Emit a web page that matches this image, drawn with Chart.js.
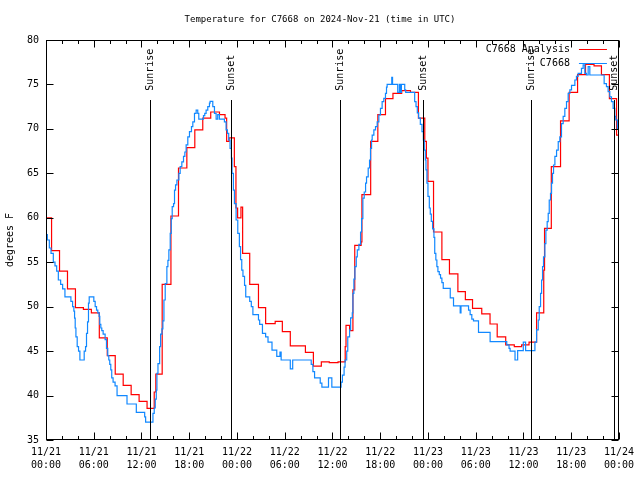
<!DOCTYPE html>
<html><head><meta charset="utf-8">
<script src="https://cdn.jsdelivr.net/npm/chart.js@4/dist/chart.umd.min.js"></script>
<style>html,body{margin:0;padding:0;background:#fff}#wrap{width:640px;height:480px}</style>
</head><body><div id="wrap"><canvas id="c" width="640" height="480"></canvas></div>
<script>
const titleText = 'Temperature for C7668 on 2024-Nov-21 (time in UTC)';
const yAxisLabel = 'degrees F';
const xTickHours = [0, 6, 12, 18, 24, 30, 36, 42, 48, 54, 60, 66, 72];
const xTickDates = ['11/21','11/21','11/21','11/21','11/22','11/22','11/22','11/22','11/23','11/23','11/23','11/23','11/24'];
const xTickTimes = ['00:00','06:00','12:00','18:00','00:00','06:00','12:00','18:00','00:00','06:00','12:00','18:00','00:00'];
const yTicks = [35, 40, 45, 50, 55, 60, 65, 70, 75, 80];

const analysisLabel = 'C7668 Analysis';
const analysisHours = [0, 0.7, 1.7, 2.7, 3.7, 4.7, 5.7, 6.7, 7.7, 8.7,
  9.7, 10.7, 11.7, 12.7, 13.6, 13.8, 14.6, 15.7, 16.65, 17.7,
  18.7, 19.7, 20.7, 21.8, 22.5, 22.7, 23.0, 23.67, 23.87, 24.08,
  24.5, 24.71, 25.6, 26.7, 27.6, 28.8, 29.7, 30.7, 32.6, 33.6,
  34.6, 35.6, 36.7, 37.6, 37.7, 38.15, 38.57, 38.8, 39.6, 39.7,
  40.8, 41.7, 42.66, 43.6, 44.7, 45.8, 46.8, 47.6, 47.8, 48.0,
  48.7, 49.75, 50.7, 51.76, 52.7, 53.6, 54.76, 55.8, 56.7, 57.77,
  58.85, 59.77, 60.7, 61.65, 62.55, 62.65, 63.5, 64.66, 65.74, 66.8,
  67.8, 68.87, 69.8, 70.8, 71.7, 72];
const analysisTemps = [60.0, 56.3, 54.0, 52.0, 49.9, 49.7, 49.3, 46.5, 44.5, 42.4,
  41.15, 40.1, 39.35, 38.55, 40.4, 42.4, 52.5, 60.2, 65.6, 67.9,
  69.9, 71.2, 71.9, 71.6, 71.2, 68.6, 69.0, 65.75, 61.1, 60.0,
  61.2, 56.0, 52.5, 49.9, 48.1, 48.35, 47.2, 45.6, 44.85, 43.3,
  43.8, 43.7, 43.8, 45.5, 47.9, 47.3, 51.9, 56.9, 57.3, 62.6,
  68.6, 71.6, 73.4, 74.0, 74.3, 74.1, 71.2, 68.6, 66.7, 64.1,
  58.4, 55.3, 53.7, 51.7, 50.8, 49.8, 49.2, 48.05, 46.6, 45.7,
  45.5, 45.7, 46.0, 49.3, 54.1, 58.8, 65.75, 70.9, 74.1, 76.1,
  77.25, 77.1, 76.1, 73.4, 69.3, 69.3];

const obsLabel = 'C7668';
const obsHours = [0, 0.17, 0.42, 0.63, 0.92, 1.13, 1.34, 1.55, 1.84, 2.09,
  2.38, 3.13, 3.34, 3.5, 3.59, 3.67, 3.76, 3.92, 4.09, 4.26,
  4.8, 4.97, 5.09, 5.22, 5.34, 5.43, 6.01, 6.18, 6.35, 6.51,
  6.68, 6.76, 6.89, 7.01, 7.18, 7.43, 7.6, 7.76, 7.89, 8.01,
  8.14, 8.26, 8.43, 8.68, 8.93, 10.18, 11.35, 12.4, 12.52, 13.44,
  13.6, 13.73, 13.86, 13.94, 14.07, 14.28, 14.4, 14.57, 14.69, 14.82,
  14.98, 15.19, 15.32, 15.44, 15.61, 15.74, 15.86, 16.03, 16.15, 16.28,
  16.45, 16.7, 16.86, 17.07, 17.28, 17.45, 17.61, 17.82, 18.03, 18.28,
  18.45, 18.66, 18.87, 19.07, 19.2, 19.79, 19.95, 20.12, 20.33, 20.54,
  20.62, 20.96, 21.17, 21.38, 21.58, 21.79, 22.42, 22.63, 22.8, 22.96,
  23.13, 23.3, 23.38, 23.55, 23.68, 23.89, 24.1, 24.3, 24.45, 24.6,
  24.75, 24.95, 25.1, 25.6, 25.8, 26.0, 26.7, 26.85, 27.2, 27.6,
  27.9, 28.4, 29.0, 29.4, 29.55, 30.7, 31.0, 33.33, 33.54, 33.75,
  34.46, 34.67, 35.5, 35.92, 37.08, 37.25, 37.46, 37.58, 37.79, 37.92,
  38.15, 38.28, 38.49, 38.57, 38.69, 38.82, 38.99, 39.12, 39.32, 39.53,
  39.66, 39.82, 39.99, 40.16, 40.28, 40.49, 40.66, 40.78, 40.91, 40.99,
  41.2, 41.41, 41.62, 41.83, 42.03, 42.24, 42.45, 42.66, 42.79, 42.87,
  43.45, 43.55, 44.2, 44.41, 44.54, 44.66, 45.08, 45.2, 46.33, 46.5,
  46.66, 46.83, 47.04, 47.25, 47.42, 47.54, 47.67, 47.75, 47.87, 48.0,
  48.17, 48.29, 48.42, 48.58, 48.75, 48.85, 48.99, 49.12, 49.25, 49.42,
  49.58, 49.75, 49.92, 50.8, 51.21, 52.05, 52.15, 53.1, 53.3, 53.51,
  53.72, 54.35, 55.81, 57.9, 58.19, 58.32, 58.94, 59.27, 59.98, 60.27,
  61.44, 61.65, 61.86, 61.98, 62.15, 62.28, 62.4, 62.52, 62.69, 62.82,
  62.98, 63.11, 63.24, 63.4, 63.53, 63.65, 63.78, 63.95, 64.16, 64.37,
  64.57, 64.78, 64.99, 65.2, 65.41, 65.62, 65.83, 66.04, 66.46, 66.66,
  66.87, 67.29, 67.5, 67.71, 67.92, 68.13, 68.34, 70.14, 70.43, 70.64,
  70.85, 71.06, 71.27, 71.48, 71.6, 71.8, 72];
const obsTemps = [58.1, 57.5, 56.6, 56.0, 55.0, 54.6, 54.0, 53.0, 52.5, 52.0,
  51.1, 50.6, 50.0, 49.5, 48.7, 47.6, 46.6, 45.5, 45.0, 44.0,
  45.0, 45.5, 47.0, 48.3, 50.4, 51.1, 50.6, 50.0, 49.6, 49.3,
  48.9, 48.0, 47.6, 47.3, 46.9, 46.3, 45.3, 44.5, 44.0, 43.5,
  42.9, 42.0, 41.5, 41.1, 40.0, 39.05, 38.1, 37.6, 37.0, 38.0,
  38.6, 39.6, 40.6, 42.5, 43.6, 45.5, 46.9, 47.5, 48.4, 50.75,
  52.6, 54.5, 55.2, 56.4, 58.25, 59.9, 61.25, 61.6, 63.1, 63.7,
  64.25, 65.0, 65.75, 66.3, 66.9, 67.4, 68.2, 69.1, 69.7, 70.25,
  70.8, 71.75, 72.1, 71.75, 71.1, 71.5, 71.75, 72.1, 72.5, 72.9,
  73.1, 72.5, 71.75, 71.1, 71.6, 71.1, 70.8, 69.9, 69.5, 68.75,
  67.8, 66.7, 65.0, 63.1, 61.6, 59.75, 58.25, 56.75, 55.3, 54.1,
  53.4, 52.4, 51.1, 50.6, 50.0, 49.1, 48.5, 48.0, 47.0, 46.6,
  46.0, 45.1, 44.4, 44.9, 44.0, 43.0, 44.0, 43.5, 42.7, 42.0,
  41.4, 40.95, 42.0, 40.95, 41.5, 42.3, 43.2, 44.0, 45.0, 46.6,
  47.4, 48.75, 49.3, 51.5, 53.1, 54.5, 55.6, 56.4, 57.0, 58.4,
  59.9, 62.2, 62.9, 63.9, 64.6, 65.6, 66.5, 67.8, 68.75, 69.3,
  69.9, 70.25, 70.8, 71.56, 72.3, 73.06, 73.44, 74.0, 74.7, 75.0,
  75.8, 75.0, 74.1, 75.0, 74.1, 75.0, 74.4, 74.1, 73.06, 72.5,
  71.8, 71.2, 70.5, 69.7, 68.75, 67.6, 66.5, 65.4, 63.9, 62.4,
  61.1, 60.4, 59.6, 58.75, 57.8, 56.0, 55.25, 54.5, 53.94, 53.6,
  53.2, 52.7, 52.06, 51.0, 50.1, 49.3, 50.1, 49.6, 49.1, 48.6,
  48.4, 47.1, 46.06, 45.7, 45.3, 45.0, 44.0, 45.05, 46.0, 45.05,
  46.0, 47.4, 48.5, 50.0, 51.5, 53.0, 54.5, 55.6, 57.1, 58.6,
  59.56, 60.5, 62.0, 62.75, 63.9, 65.0, 65.94, 66.9, 67.6, 68.56,
  69.1, 70.6, 71.4, 72.3, 73.06, 74.0, 74.4, 74.9, 75.5, 75.9,
  76.25, 76.8, 77.2, 76.25, 76.06, 77.0, 76.06, 75.1, 74.75, 74.2,
  73.6, 73.06, 72.3, 71.4, 71.0, 70.0, 69.5];

const sunriseHours = [13.125, 36.96, 60.92];
const sunsetHours = [23.29, 47.33, 71.33];
const sunriseText = 'Sunrise';
const sunsetText = 'Sunset';

const FONT = "'DejaVu Sans Mono', 'Liberation Mono', monospace";
const fontSpec = {family: FONT, size: 10, weight: 'normal', lineHeight: 1.3};

const decor = {
  id: 'gnuplotDecor',
  afterDatasetsDraw(chart) {
    const {ctx, chartArea: a, scales: {x, y}} = chart;
    ctx.save();
    ctx.strokeStyle = '#000';
    ctx.fillStyle = '#000';
    ctx.lineWidth = 1;
    const L = Math.round(a.left) + 0.5, R = Math.round(a.right) - 0.5;
    const T = Math.round(a.top) + 0.5, B = Math.round(a.bottom) - 0.5;
    const H = a.bottom - a.top;
    ctx.font = "10px " + FONT;
    const marks = sunriseHours.map(h => [h, sunriseText]).concat(sunsetHours.map(h => [h, sunsetText]));
    for (const [h, txt] of marks) {
      const px = Math.round(x.getPixelForValue(h)) + 0.5;
      ctx.beginPath();
      ctx.moveTo(px, Math.round(a.top + H * 0.15));
      ctx.lineTo(px, B);
      ctx.stroke();
      ctx.save();
      ctx.translate(px - 0.5, a.top + H * 0.127);
      ctx.rotate(-Math.PI / 2);
      ctx.textAlign = 'left';
      ctx.textBaseline = 'middle';
      ctx.fillText(txt, 0, 0);
      ctx.restore();
    }
    ctx.strokeRect(L, T, R - L, B - T);
    ctx.beginPath();
    for (let h = x.min; h <= x.max; h += 2) {
      const px = Math.round(x.getPixelForValue(h)) + 0.5;
      const len = (h % 6 === 0) ? 7 : 3.5;
      ctx.moveTo(px, B); ctx.lineTo(px, B - len);
      ctx.moveTo(px, T); ctx.lineTo(px, T + len);
    }
    for (const v of yTicks) {
      const py = Math.round(y.getPixelForValue(v)) + 0.5;
      ctx.moveTo(L, py); ctx.lineTo(L + 7, py);
      ctx.moveTo(R, py); ctx.lineTo(R - 7, py);
    }
    ctx.stroke();
    const lx = a.right - 49;
    chart.data.datasets.slice().sort((p, q) => p.legendIndex - q.legendIndex).forEach((ds, i) => {
      const ly = Math.round(a.top + 9 + 14 * i) + 0.5;
      ctx.fillStyle = '#000';
      ctx.textAlign = 'right';
      ctx.textBaseline = 'middle';
      ctx.fillText(ds.label, lx, ly);
      ctx.strokeStyle = ds.borderColor;
      ctx.beginPath();
      ctx.moveTo(lx + 9, ly); ctx.lineTo(lx + 37, ly);
      ctx.stroke();
    });
    ctx.restore();
  }
};

new Chart(document.getElementById('c'), {
  type: 'line',
  data: {
    datasets: [
      {
        label: obsLabel, legendIndex: 1,
        data: obsHours.map((h, i) => ({x: h, y: obsTemps[i]})),
        borderColor: '#1188ff', borderWidth: 1.2, pointRadius: 0, stepped: true, fill: false, order: 0
      },
      {
        label: analysisLabel, legendIndex: 0,
        data: analysisHours.map((h, i) => ({x: h, y: analysisTemps[i]})),
        borderColor: '#ff0000', borderWidth: 1.2, pointRadius: 0, stepped: true, fill: false, order: 1
      }
    ]
  },
  options: {
    responsive: false,
    animation: false,
    devicePixelRatio: 1,
    layout: {padding: 0},
    plugins: {
      legend: {display: false},
      tooltip: {enabled: false},
      title: {display: true, text: titleText, color: '#000', font: {family: FONT, size: 9, weight: 'normal', lineHeight: 1.2}, padding: {top: 14, bottom: 15.2}}
    },
    scales: {
      x: {
        type: 'linear', min: 0, max: 72,
        afterBuildTicks: s => { s.ticks = xTickHours.map(v => ({value: v})); },
        ticks: {
          autoSkip: false, maxRotation: 0, padding: 6, color: '#000', font: fontSpec,
          callback: (v) => { const i = xTickHours.indexOf(v); return i < 0 ? '' : [xTickDates[i], xTickTimes[i]]; }
        },
        grid: {display: false, drawTicks: false},
        border: {display: false},
        afterFit: s => { s.height = 40; }
      },
      y: {
        type: 'linear', min: 35, max: 80,
        afterBuildTicks: s => { s.ticks = yTicks.map(v => ({value: v})); },
        ticks: {padding: 7, color: '#000', font: fontSpec},
        grid: {display: false, drawTicks: false},
        border: {display: false},
        title: {display: true, text: yAxisLabel, color: '#000', font: {family: FONT, size: 10, weight: 'normal', lineHeight: 1.2}, padding: {top: 4, bottom: 0}},
        afterFit: s => { s.width = 46; }
      },
      yRight: {
        type: 'linear', position: 'right', min: 35, max: 80, display: true,
        ticks: {display: false},
        grid: {display: false, drawTicks: false},
        border: {display: false},
        afterFit: s => { s.width = 18; }
      }
    }
  },
  plugins: [decor]
});
</script>
</body></html>
